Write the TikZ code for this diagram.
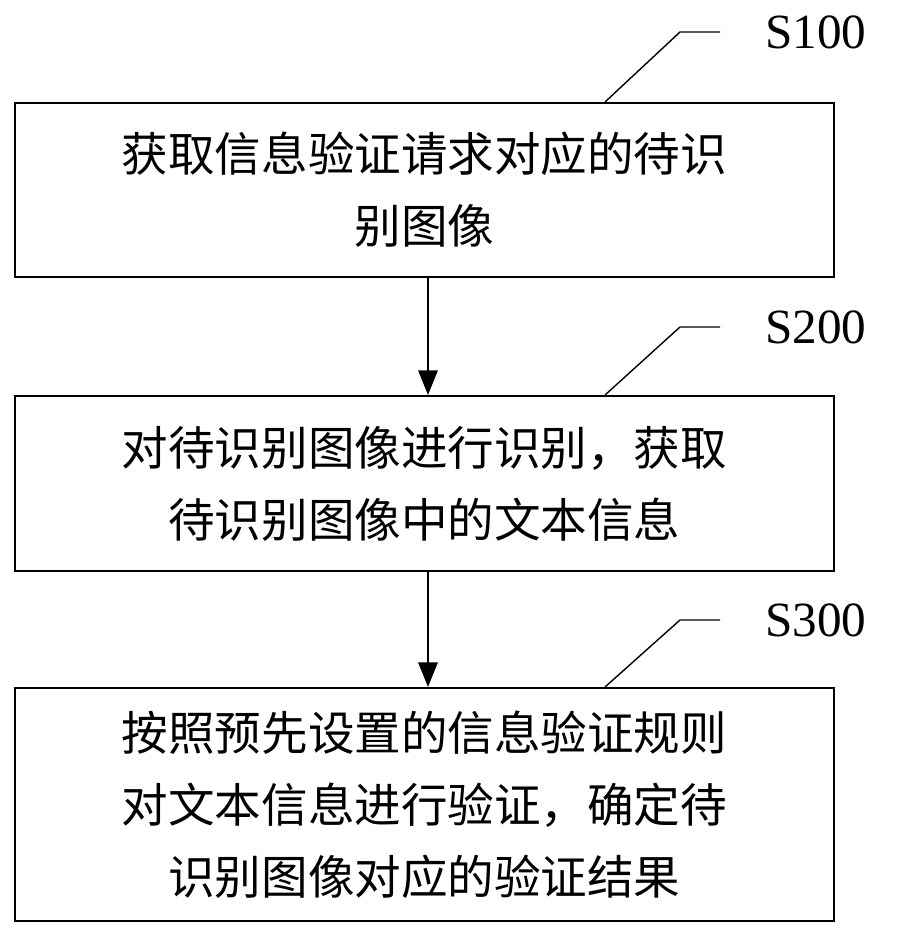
\documentclass[tikz,border=0pt]{standalone}
\usepackage{fontspec}
\setmainfont{Liberation Serif}
\newfontfamily\cjk{Noto Sans CJK SC}
\usetikzlibrary{positioning,arrows.meta}

\tikzset{
  stepbox/.style={draw,line width=1.2pt,minimum width=16.38cm,text width=16cm,
    align=center,inner sep=0pt,font=\cjk\fontsize{26.5}{41}\selectfont},
  steplabel/.style={font=\fontsize{28}{30}\selectfont,anchor=west,inner sep=0pt},
  flow/.style={-{Triangle[length=14pt,width=11pt]},line width=1.2pt}
}

\begin{document}
\begin{tikzpicture}[x=0.02cm,y=-0.02cm]
            \useasboundingbox (0,0) rectangle (899,939);
            % steps
            \node[stepbox,minimum height=3.48cm,anchor=north west] (s1) at (14,102)
               {获取信息验证请求对应的待识\\别图像};
            \node[stepbox,minimum height=3.5cm,anchor=north west] (s2) at (14,395)
               {对待识别图像进行识别，获取\\待识别图像中的文本信息};
            \node[stepbox,minimum height=4.66cm,anchor=north west] (s3) at (14,687)
               {按照预先设置的信息验证规则\\对文本信息进行验证，确定待\\识别图像对应的验证结果};
            
            \coordinate (x) at (428,0);
            \coordinate (xl) at (605,0);
            \draw [flow] (s1.south -| x) -- (s2.north -| x);
            \draw [flow] (s2.south -| x) -- (s3.north -| x);
            
            % step labels
            \foreach \s/\y/\t in {s1/32/S100,s2/327/S200,s3/620/S300}{
               \node[steplabel] (l\s) at (765,\y) {\t};
               \draw [line width=0.8pt] (\s.north -| xl) -- (680,\y) -- (720,\y);
            }
         \end{tikzpicture}
\end{document}
